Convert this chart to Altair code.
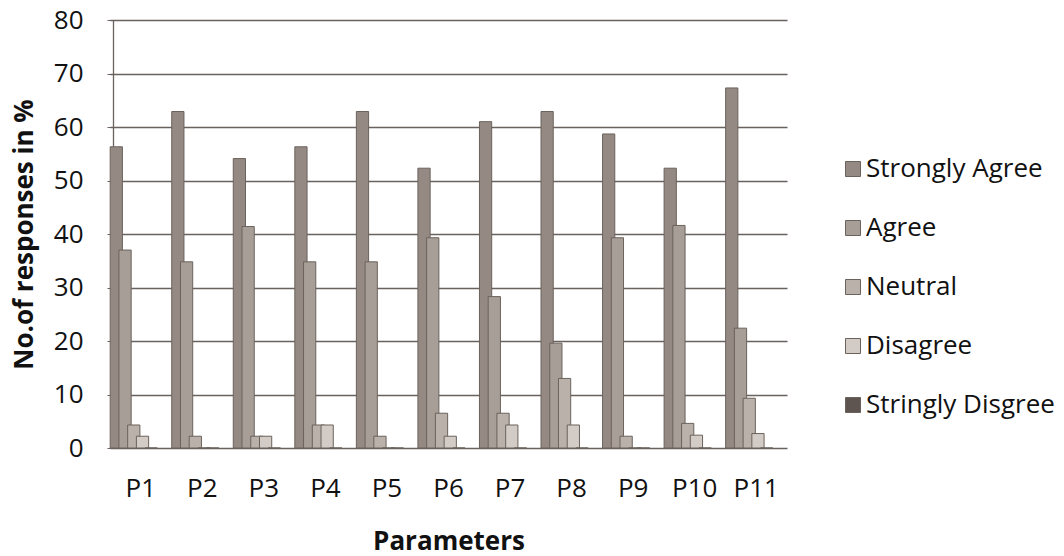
import altair as alt
import pandas as pd

params = ["P1", "P2", "P3", "P4", "P5", "P6", "P7", "P8", "P9", "P10", "P11"]
series = ["Strongly Agree", "Agree", "Neutral", "Disagree", "Stringly Disgree"]
strongly_agree = [56.3, 62.9, 54.1, 56.3, 62.9, 52.3, 61.0, 62.9, 58.7, 52.3, 67.3]
agree = [37.0, 34.8, 41.4, 34.8, 34.8, 39.3, 28.3, 19.6, 39.3, 41.6, 22.4]
neutral = [4.3, 2.2, 2.2, 4.3, 2.2, 6.5, 6.5, 13.0, 2.2, 4.6, 9.3]
disagree = [2.2, 0.0, 2.2, 4.3, 0.0, 2.2, 4.3, 4.3, 0.0, 2.4, 2.7]
stringly_disagree = [0, 0, 0, 0, 0, 0, 0, 0, 0, 0, 0]
colors = ["#958a83", "#a89e98", "#bab1ab", "#d3cbc5", "#5e5550"]

rows = []
for s, vals in zip(series, [strongly_agree, agree, neutral, disagree, stringly_disagree]):
    for p, v in zip(params, vals):
        rows.append({"Parameter": p, "Response": s, "Value": v})
df = pd.DataFrame(rows)

FONT = "Open Sans"
FS = 26

chart = alt.Chart(df).mark_bar(width=alt.RelativeBandSize(1.4), stroke="#6b625c", strokeWidth=1).encode(
    x=alt.X("Parameter:N", sort=params,
            scale=alt.Scale(paddingInner=0.29, paddingOuter=0.145, range=[-3, 674]),
            axis=alt.Axis(title="Parameters", labelAngle=0, ticks=False, domain=False,
                          labelFontSize=FS, labelFont=FONT, labelColor="#111",
                          labelPadding=27, titleFontSize=FS, titleFont=FONT,
                          titleFontWeight="bold", titleColor="#111", titlePadding=27)),
    xOffset=alt.XOffset("Response:N", sort=series,
                        scale=alt.Scale(paddingInner=0, paddingOuter=0)),
    y=alt.Y("Value:Q", scale=alt.Scale(domain=[0, 80]),
            axis=alt.Axis(title="No.of responses in %", values=[0, 10, 20, 30, 40, 50, 60, 70, 80],
                          grid=True, gridColor="#6a625e", gridWidth=1.3,
                          domain=True, domainColor="#6a625e", domainWidth=1.3,
                          ticks=True, tickSize=6, tickColor="#6a625e",
                          labelFontSize=FS, labelFont=FONT, labelColor="#111", labelPadding=24,
                          titleFontSize=FS, titleFont=FONT, titleFontWeight="bold",
                          titleColor="#111", titlePadding=16)),
    color=alt.Color("Response:N", sort=series,
                    scale=alt.Scale(domain=series, range=colors),
                    legend=alt.Legend(title=None, orient="none", legendX=727, legendY=136,
                                      symbolType="square", symbolSize=225,
                                      symbolStrokeColor="#6b625c", symbolStrokeWidth=1,
                                      labelFontSize=FS, labelFont=FONT, labelColor="#111",
                                      labelLimit=400, rowPadding=33, labelOffset=0)),
).properties(
    width=677, height=428,
    autosize=alt.AutoSizeParams(type="none"),
    padding={"left": 105, "top": 12, "right": 266, "bottom": 108},
).configure_view(stroke=None)

chart.save("out.html", embed_options={"renderer": "svg", "actions": False})
